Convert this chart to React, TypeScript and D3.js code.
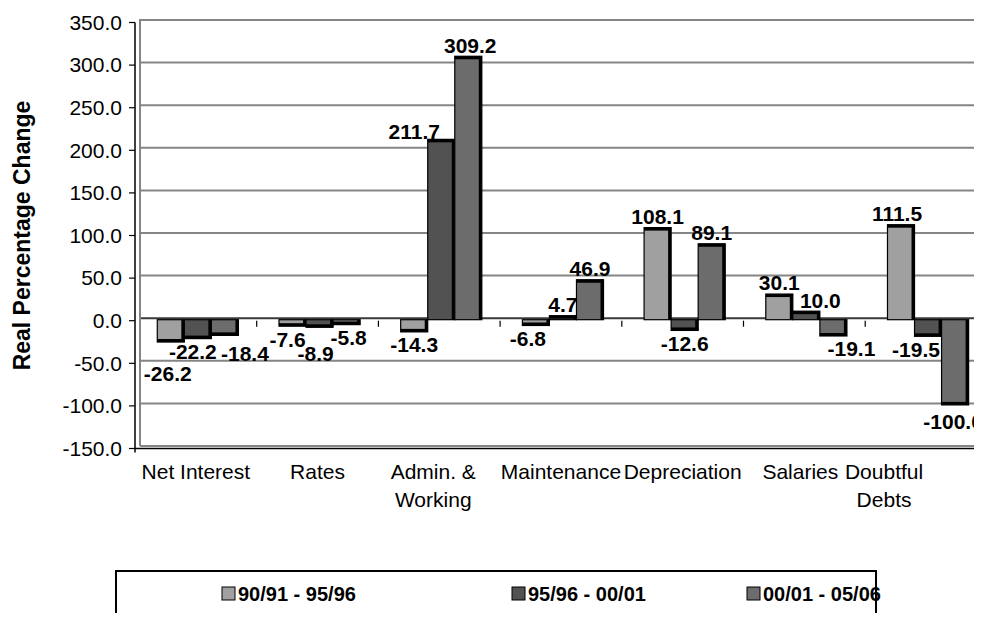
import { scaleBand, scaleLinear, range } from 'd3'

const categories = ['Net Interest', 'Rates', 'Admin. & Working', 'Maintenance', 'Depreciation', 'Salaries', 'Doubtful Debts']
const categoryLines = [['Net Interest'], ['Rates'], ['Admin. &', 'Working'], ['Maintenance'], ['Depreciation'], ['Salaries'], ['Doubtful', 'Debts']]
const seriesNames = ['90/91 - 95/96', '95/96 - 00/01', '00/01 - 05/06']
const period1 = [-26.2, -7.6, -14.3, -6.8, 108.1, 30.1, 111.5]
const period2 = [-22.2, -8.9, 211.7, 4.7, -12.6, 10.0, -19.5]
const period3 = [-18.4, -5.8, 309.2, 46.9, 89.1, -19.1, -100.0]
const yTicks = [-150, -100, -50, 0, 50, 100, 150, 200, 250, 300, 350]

const colors = ['#a0a0a0', '#525252', '#6c6c6c']
// hand nudges for labels Excel had moved around
const labelNudge: [number, number][][] = [
  [[-3, 19], [-5, 0], [20, 5]],
  [[-5, 0], [-4, 13], [2, 0]],
  [[0, 0], [-27, 3], [2, 0]],
  [[-8, 0], [0, 0], [0, 0]],
  [[0, 0], [0, 0], [0, 0]],
  [[0, 0], [14, 0], [18, 0]],
  [[-4, 0], [-12, 0], [-2, 4]],
]
const catLabelShift = [0, 0, -6, 0, 0, -4, -42]

const FONT = '"Liberation Sans", Arial, sans-serif'

export default function App() {
  const width = 982
  const height = 621
  const left = 135
  const catW = 121.7
  const wall = { dx: 5, dy: -2.5 }

  const y = scaleLinear().domain([-150, 350]).range([448.5, 22.5])
  const x0 = scaleBand<string>().domain(categories).range([left, left + catW * categories.length])
  const barW = catW / 4.5
  const x1 = scaleBand<number>().domain([0, 1, 2]).range([barW * 0.75, barW * 3.75])
  const series = [period1, period2, period3]

  return (
    <svg width={width} height={height} style={{ display: 'block', margin: -8, fontFamily: FONT }}>
      <rect width={width} height={height} fill="#fff" />
      {/* back wall gridlines */}
      {yTicks.map((t) => (
        <line
          key={'g' + t}
          x1={left + wall.dx}
          x2={width}
          y1={y(t) + wall.dy}
          y2={y(t) + wall.dy}
          stroke={t === 0 ? '#3a3a3a' : '#858585'}
          strokeWidth={2}
        />
      ))}
      <line x1={left + wall.dx} x2={left + wall.dx} y1={y(350) + wall.dy - 1} y2={y(-150) + wall.dy} stroke="#858585" strokeWidth={2} />
      {/* value axis */}
      <line x1={left} x2={left} y1={y(350)} y2={y(-150) + 4} stroke="#000" strokeWidth={1.5} />
      {yTicks.map((t) => (
        <g key={'t' + t}>
          <line x1={left - 6} x2={left} y1={y(t)} y2={y(t)} stroke="#000" strokeWidth={1.2} />
          <text x={left - 13} y={y(t)} dy="0.35em" textAnchor="end" fontSize={21}>
            {t.toFixed(1)}
          </text>
        </g>
      ))}
      <line x1={left} x2={width} y1={y(-150)} y2={y(-150)} stroke="#000" strokeWidth={1.5} />
      {/* category ticks on zero line */}
      {range(1, categories.length + 1).map((i) => (
        <line key={'ct' + i} x1={left + i * catW} x2={left + i * catW} y1={y(0)} y2={y(0) + 6} stroke="#000" strokeWidth={1.2} />
      ))}
      {/* bars */}
      {categories.map((c, ci) =>
        series.map((s, si) => {
          const v = s[ci]
          const bx = (x0(c) ?? 0) + (x1(si) ?? 0) + 2
          const y0 = y(0) - 1
          const yv = y(v) - 1
          const top = Math.min(y0, yv)
          const h = Math.abs(yv - y0)
          const endY = v >= 0 ? top : top + h - 3
          return (
            <g key={c + si}>
              <rect x={bx} y={top} width={barW} height={h} fill={colors[si]} stroke="#000" strokeWidth={1.2} />
              <rect x={bx + barW - 3} y={top} width={3} height={h} fill="#000" />
              <rect x={bx} y={endY} width={barW} height={3} fill="#000" />
            </g>
          )
        })
      )}
      {/* data labels */}
      {categories.map((c, ci) =>
        series.map((s, si) => {
          const v = s[ci]
          const cx = (x0(c) ?? 0) + (x1(si) ?? 0) + 2 + barW / 2
          const cy = y(v) + (v >= 0 ? -12 : 12)
          const [ndx, ndy] = labelNudge[ci][si]
          return (
            <text key={'l' + c + si} x={cx + ndx} y={cy + ndy} dy="0.35em" textAnchor="middle" fontSize={21} fontWeight="bold">
              {v.toFixed(1)}
            </text>
          )
        })
      )}
      {/* category labels */}
      {categories.map((c, ci) => (
        <text key={'c' + c} y={472} textAnchor="middle" fontSize={21}>
          {categoryLines[ci].map((ln, li) => (
            <tspan key={ln} x={(x0(c) ?? 0) + catW / 2 + catLabelShift[ci]} dy={li === 0 ? '0.35em' : 28}>
              {ln}
            </tspan>
          ))}
        </text>
      ))}
      {/* axis title */}
      <text transform={`translate(22,${y(100)}) rotate(-90)`} textAnchor="middle" dy="0.35em" fontSize={23} fontWeight="bold">
        Real Percentage Change
      </text>
      {/* legend */}
      <rect x={116} y={571} width={760} height={60} fill="none" stroke="#000" strokeWidth={2} />
      {seriesNames.map((n, i) => {
        const lx = [222, 512, 747][i]
        return (
          <g key={n}>
            <rect x={lx} y={587} width={13} height={13} fill={colors[i]} stroke="#000" strokeWidth={1} />
            <text x={lx + 16} y={594} dy="0.35em" fontSize={20} fontWeight="bold">
              {n}
            </text>
          </g>
        )
      })}
    </svg>
  )
}
